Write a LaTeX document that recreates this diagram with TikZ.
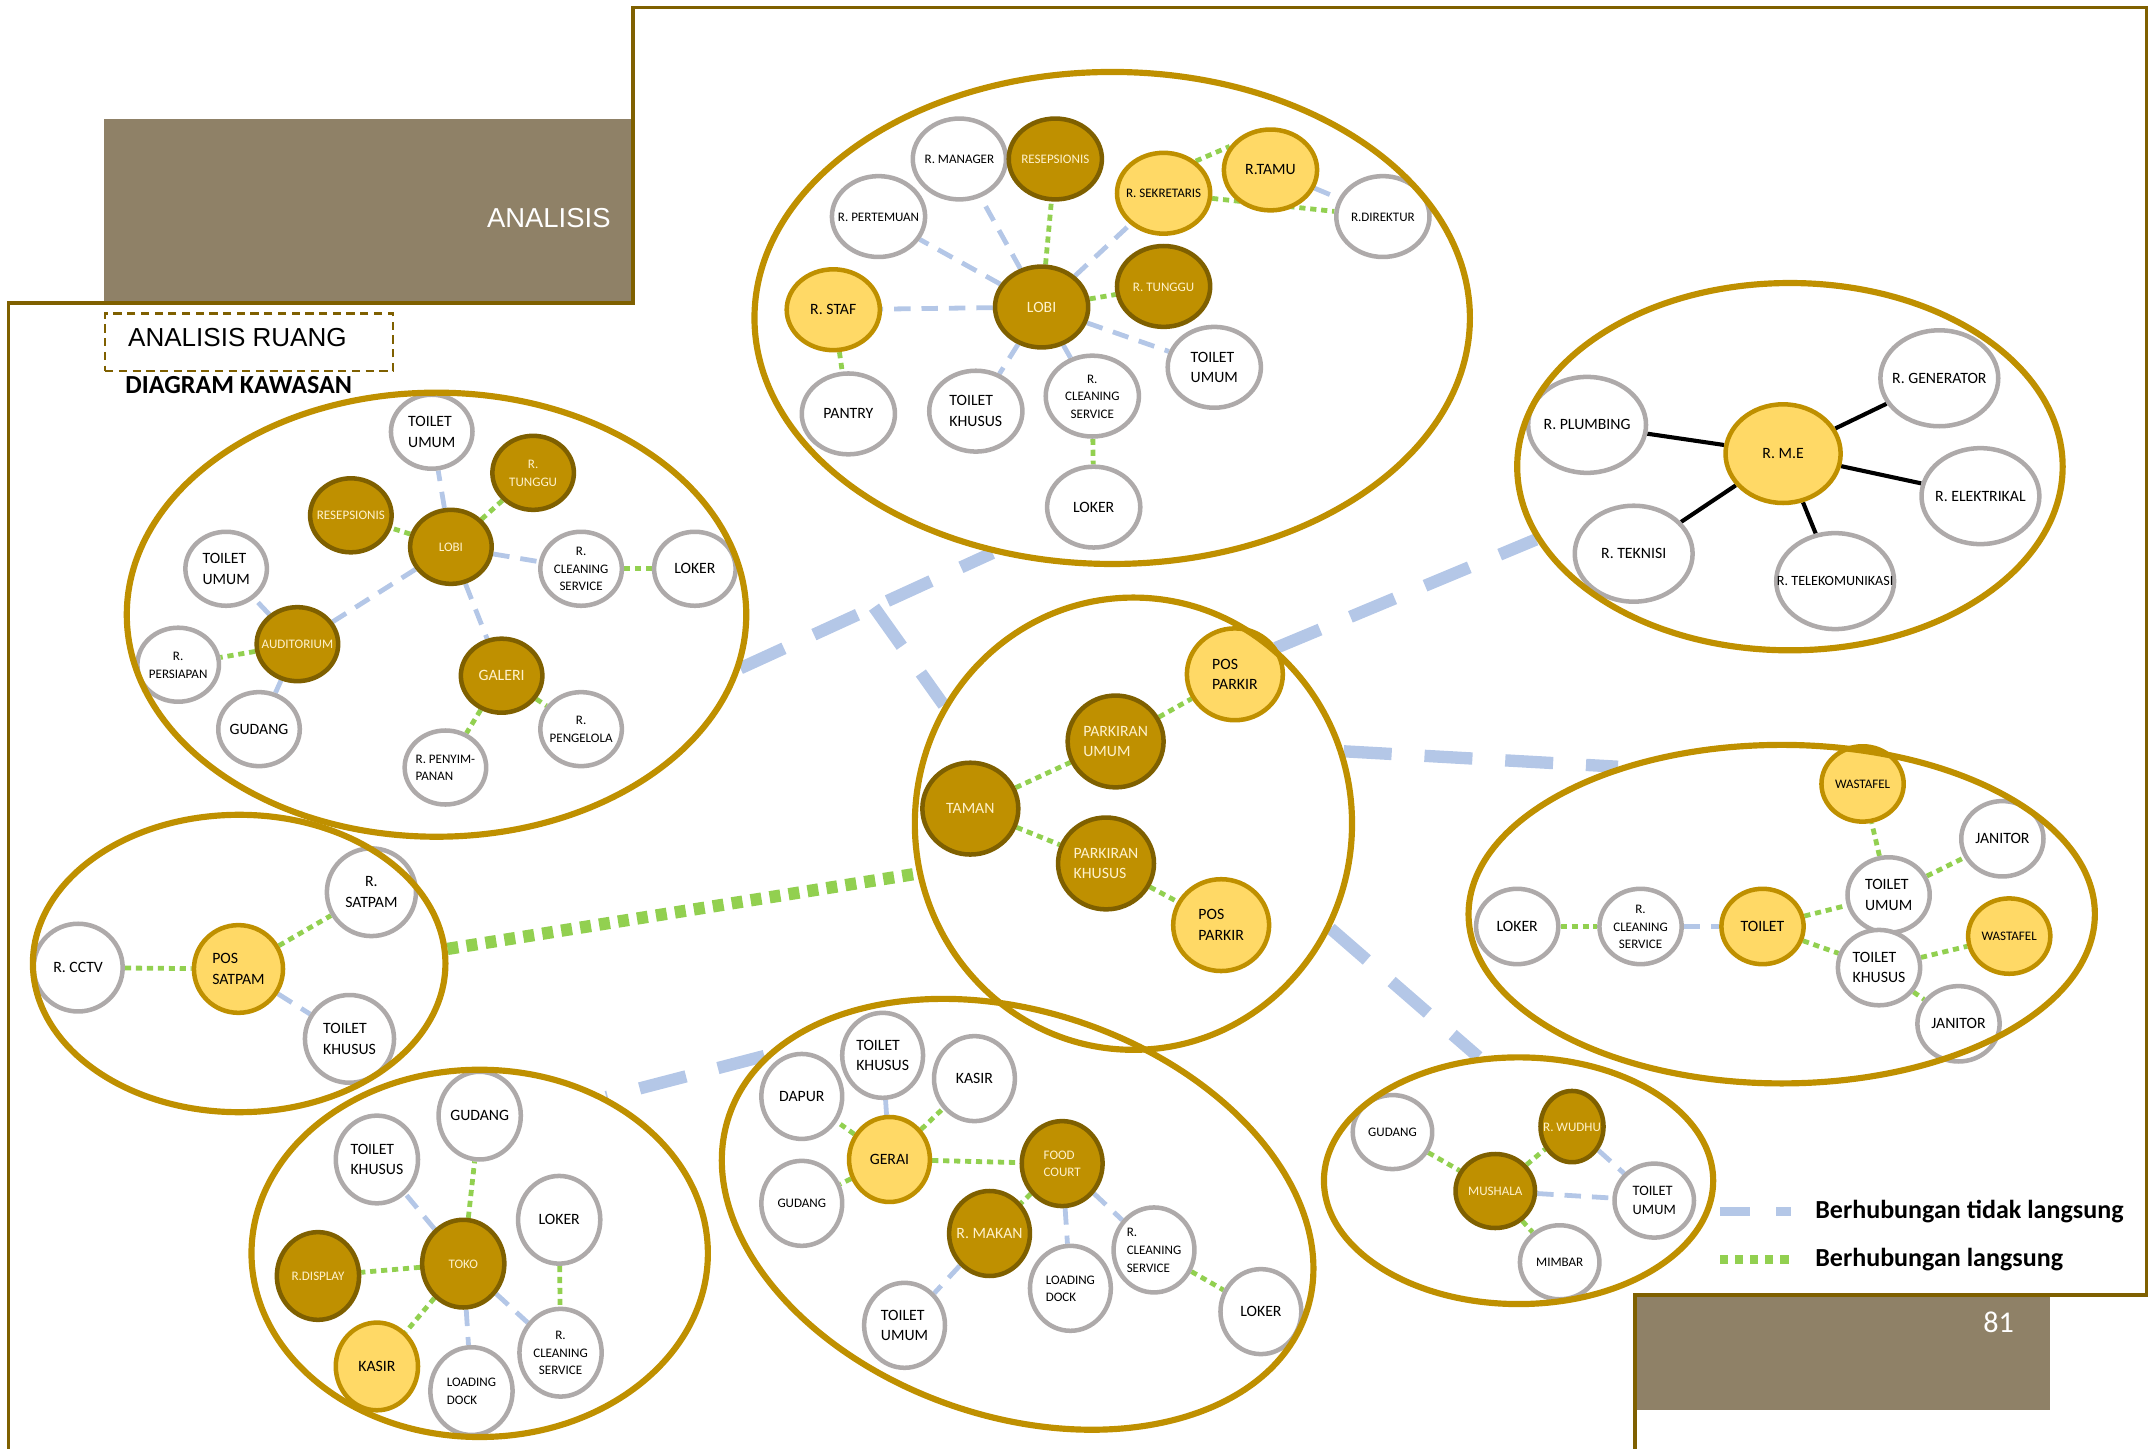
\documentclass[tikz,border=0pt]{standalone}
\usepackage{fontspec}
\setmainfont{Carlito}
\newfontfamily\headfont{Liberation Sans}
\usetikzlibrary{shapes.geometric,backgrounds,calc}
\definecolor{zonegold}{RGB}{191,144,0}
\definecolor{darkgold}{RGB}{127,96,0}
\definecolor{lightgold}{RGB}{255,217,102}
\definecolor{ringgray}{RGB}{174,170,170}
\definecolor{linkblue}{RGB}{180,199,231}
\definecolor{linkgreen}{RGB}{146,208,80}
\definecolor{cream}{RGB}{255,242,204}
\definecolor{boxbrown}{RGB}{143,129,103}
% label sits in a box of no size, so the ring keeps its own size
\newcommand{\rlbl}[2][c]{\makebox[0pt]{\raisebox{-0.32em}[0pt][0pt]{\begin{tabular}{@{}#1@{}}#2\end{tabular}}}}

\begin{document}
\begin{tikzpicture}[x=1pt,y=-1pt,
  every node/.style={font=\fontsize{11.5}{15}\selectfont},
  sm/.style={font=\fontsize{9.5}{12.8}\selectfont},
  md/.style={font=\fontsize{10.5}{13.5}\selectfont},
  every room/.style={minimum width=68,minimum height=59},
  room/.style={ellipse,inner sep=0pt,line width=3.3,every room},
  wr/.style={room,draw=ringgray,fill=white},
  lr/.style={room,draw=zonegold,fill=lightgold},
  dr/.style={room,draw=darkgold,fill=zonegold,text=cream},
  zone/.style={ellipse,draw=zonegold,line width=4.5,inner sep=0pt},
  ind/.style={draw=linkblue,line width=3.5,dash pattern=on 12pt off 8pt},
  dir/.style={draw=linkgreen,line width=3.5,dash pattern=on 4.5pt off 3.5pt},
  tech/.style={draw=black,line width=3},
  indbig/.style={draw=linkblue,line width=9,dash pattern=on 35pt off 24pt},
  dirbig/.style={draw=linkgreen,line width=9,dash pattern=on 8pt off 6pt},
]
\useasboundingbox (0,0) rectangle (1568,1057);

% page header
\fill[boxbrown] (76,87) rectangle (462,222);
\fill[boxbrown] (1194,946) rectangle (1496,1029);
\draw[darkgold,line width=2.5] (6,1057) -- (6,221) -- (462,221) -- (462,5.5)
  -- (1566,5.5) -- (1566,945) -- (1193,945) -- (1193,1057);
\node[anchor=base east,text=white,font=\headfont\fontsize{20}{24}\selectfont] (ttlMain) at (449,166) {ANALISIS};
\node[draw=darkgold,line width=1.5,dash pattern=on 6pt off 4pt,anchor=north west,
  minimum width=210,minimum height=42] (ttlBox) at (76,228) {};
\node[anchor=base west,font=\headfont\fontsize{19}{23}\selectfont] (ttlSub) at (90,253) {ANALISIS RUANG};
\node[anchor=base west,font=\bfseries\fontsize{19}{23}\selectfont] (ttlDiag) at (88,287) {DIAGRAM KAWASAN};
\node[anchor=base east,text=white,font=\fontsize{22}{26}\selectfont] (pgNum) at (1473,972) {81};

% legend
\node[anchor=base west,font=\bfseries\fontsize{19}{23}\selectfont] (lgInd) at (1321,889) {Berhubungan tidak langsung};
\node[anchor=base west,font=\bfseries\fontsize{19}{23}\selectfont] (lgDir) at (1321,924) {Berhubungan langsung};
\draw[draw=linkblue,line width=6,dash pattern=on 22pt off 19pt] ([xshift=-66]lgInd.west) -- ([xshift=-14]lgInd.west);
\draw[draw=linkgreen,line width=6,dash pattern=on 6pt off 5pt] ([xshift=-66]lgDir.west) -- ([xshift=-16]lgDir.west);

% kantor
\begin{scope}[every room/.style={minimum width=68,minimum height=59}]
\node[wr,sm] (kManager) at (700,116) {\rlbl{R. MANAGER}};
\node[dr,sm] (kResepsionis) at (770,116) {\rlbl{RESEPSIONIS}};
\node[wr,sm] (kPertemuan) at (641,158) {\rlbl{R. PERTEMUAN}};
\node[lr,sm] (kSekretaris) at (849,141) {\rlbl{R. SEKRETARIS}};
\node[lr] (kTamu) at (927,124) {\rlbl{R.TAMU}};
\node[wr,sm] (kDirektur) at (1009,158) {\rlbl{R.DIREKTUR}};
\node[lr] (kStaf) at (608,226) {\rlbl{R. STAF}};
\node[dr] (kLobi) at (760,224) {\rlbl{LOBI}};
\node[dr,sm] (kTunggu) at (849,209) {\rlbl{R. TUNGGU}};
\node[wr] (kToiletU) at (886,268) {\rlbl[l]{TOILET\\UMUM}};
\node[wr] (kPantry) at (619,302) {\rlbl{PANTRY}};
\node[wr] (kToiletK) at (712,300) {\rlbl[l]{TOILET\\KHUSUS}};
\node[wr,sm] (kCleaning) at (797,289) {\rlbl{R.\\CLEANING\\SERVICE}};
\node[wr] (kLoker) at (798,370) {\rlbl{LOKER}};
\end{scope}

% galeri
\begin{scope}[every room/.style={minimum width=59.5,minimum height=54}]
\node[wr] (gToiletU) at (315,315) {\rlbl[l]{TOILET\\UMUM}};
\node[dr,sm] (gTunggu) at (389,345) {\rlbl{R.\\TUNGGU}};
\node[dr,sm] (gResepsionis) at (256,376) {\rlbl{RESEPSIONIS}};
\node[dr,sm] (gLobi) at (329,399) {\rlbl{LOBI}};
\node[wr] (gToiletU2) at (165,415) {\rlbl[l]{TOILET\\UMUM}};
\node[wr,sm] (gCleaning) at (424,415) {\rlbl{R.\\CLEANING\\SERVICE}};
\node[wr] (gLoker) at (507,415) {\rlbl{LOKER}};
\node[dr,sm] (gAuditorium) at (217,470) {\rlbl{AUDITORIUM}};
\node[wr,sm] (gPersiapan) at (130,485) {\rlbl{R.\\PERSIAPAN}};
\node[dr] (gGaleri) at (366,493) {\rlbl{GALERI}};
\node[wr] (gGudang) at (189,532) {\rlbl{GUDANG}};
\node[wr,sm] (gPengelola) at (424,532) {\rlbl{R.\\PENGELOLA}};
\node[wr,sm] (gPenyimpanan) at (325,560) {\rlbl[l]{R. PENYIM-\\PANAN}};
\end{scope}

% mekanikal elektrikal
\begin{scope}[every room/.style={minimum width=86,minimum height=70}]
\node[lr,minimum width=84,minimum height=72] (mME) at (1301,331) {\rlbl{R. M.E}};
\node[wr] (mPlumbing) at (1158,310) {\rlbl{R. PLUMBING}};
\node[wr] (mGenerator) at (1415,276) {\rlbl{R. GENERATOR}};
\node[wr] (mElektrikal) at (1445,362) {\rlbl{R. ELEKTRIKAL}};
\node[wr] (mTeknisi) at (1192,404) {\rlbl{R. TEKNISI}};
\node[wr,font=\fontsize{10.3}{13}\selectfont] (mTelekom) at (1339,424) {\rlbl{R. TELEKOMUNIKASI}};
\end{scope}

% taman dan parkir
\begin{scope}[every room/.style={minimum width=70,minimum height=67}]
\node[lr] (tPosA) at (901,492) {\rlbl[l]{POS\\PARKIR}};
\node[dr] (tUmum) at (814,541) {\rlbl[l]{PARKIRAN\\UMUM}};
\node[dr] (tTaman) at (708,590) {\rlbl{TAMAN}};
\node[dr] (tKhusus) at (807,630) {\rlbl[l]{PARKIRAN\\KHUSUS}};
\node[lr] (tPosB) at (891,675) {\rlbl[l]{POS\\PARKIR}};
\end{scope}

% toilet
\begin{scope}[every room/.style={minimum width=60,minimum height=55}]
\node[lr,sm] (wWastafelA) at (1359,572) {\rlbl{WASTAFEL}};
\node[wr] (wJanitorA) at (1461,612) {\rlbl{JANITOR}};
\node[wr] (wLoker) at (1107,676) {\rlbl{LOKER}};
\node[wr,sm] (wCleaning) at (1197,676) {\rlbl{R.\\CLEANING\\SERVICE}};
\node[lr] (wToilet) at (1286,676) {\rlbl{TOILET}};
\node[wr] (wToiletU) at (1378,653) {\rlbl[l]{TOILET\\UMUM}};
\node[wr] (wToiletK) at (1371,706) {\rlbl[l]{TOILET\\KHUSUS}};
\node[lr,sm] (wWastafelB) at (1466,683) {\rlbl{WASTAFEL}};
\node[wr] (wJanitorB) at (1429,747) {\rlbl{JANITOR}};
\end{scope}

% satpam
\begin{scope}[every room/.style={minimum width=65,minimum height=64}]
\node[wr] (sCctv) at (57,706) {\rlbl{R. CCTV}};
\node[lr] (sPos) at (174,707) {\rlbl[l]{POS\\SATPAM}};
\node[wr] (sSatpam) at (271,651) {\rlbl{R.\\SATPAM}};
\node[wr] (sToiletK) at (255,758) {\rlbl[l]{TOILET\\KHUSUS}};
\end{scope}

% toko
\begin{scope}[every room/.style={minimum width=60,minimum height=64}]
\node[wr] (oGudang) at (350,814) {\rlbl{GUDANG}};
\node[wr] (oToiletK) at (275,846) {\rlbl[l]{TOILET\\KHUSUS}};
\node[wr] (oLoker) at (408,890) {\rlbl{LOKER}};
\node[dr,sm] (oToko) at (338,922) {\rlbl{TOKO}};
\node[dr,sm] (oDisplay) at (232,931) {\rlbl{R.DISPLAY}};
\node[lr] (oKasir) at (275,997) {\rlbl{KASIR}};
\node[wr,sm] (oLoading) at (344,1015) {\rlbl[l]{LOADING\\DOCK}};
\node[wr,sm] (oCleaning) at (409,987) {\rlbl{R.\\CLEANING\\SERVICE}};
\end{scope}

% food court
\begin{scope}[every room/.style={minimum width=59,minimum height=62}]
\node[wr] (fToiletK) at (644,770) {\rlbl[l]{TOILET\\KHUSUS}};
\node[wr] (fKasir) at (711,787) {\rlbl{KASIR}};
\node[wr] (fDapur) at (585,800) {\rlbl{DAPUR}};
\node[lr] (fGerai) at (649,846) {\rlbl{GERAI}};
\node[wr,sm] (fGudang) at (585,878) {\rlbl{GUDANG}};
\node[dr,sm] (fFood) at (775,849) {\rlbl[l]{FOOD\\COURT}};
\node[dr] (fMakan) at (722,900) {\rlbl{R. MAKAN}};
\node[wr,sm] (fLoading) at (781,940) {\rlbl[l]{LOADING\\DOCK}};
\node[wr,sm] (fCleaning) at (842,912) {\rlbl[l]{R.\\CLEANING\\SERVICE}};
\node[wr] (fToiletU) at (660,967) {\rlbl[l]{TOILET\\UMUM}};
\node[wr] (fLoker) at (920,957) {\rlbl{LOKER}};
\end{scope}

% mushala
\begin{scope}[every room/.style={minimum width=58,minimum height=54}]
\node[wr,sm] (uGudang) at (1016,826) {\rlbl{GUDANG}};
\node[dr,sm,minimum width=46,minimum height=52] (uWudhu) at (1147,822) {\rlbl{R. WUDHU}};
\node[dr,sm] (uMushala) at (1091,869) {\rlbl{MUSHALA}};
\node[wr,md] (uToiletU) at (1207,876) {\rlbl[l]{TOILET\\UMUM}};
\node[wr,sm] (uMimbar) at (1138,921) {\rlbl{MIMBAR}};
\end{scope}

% zones
\node[zone,minimum width=522,minimum height=359] (kZone) at (811.5,232) {};
\node[zone,minimum width=452,minimum height=324] (gZone) at (318.5,448.5) {};
\node[zone,minimum width=398,minimum height=268] (mZone) at (1306,340.5) {};
\node[zone,minimum width=319,minimum height=330] (tZone) at (827,601) {};
\node[zone,minimum width=457,minimum height=247] (wZone) at (1300,667) {};
\node[zone,minimum width=301,minimum height=217] (sZone) at (174.5,703) {};
\node[zone,minimum width=333,minimum height=268] (oZone) at (350,914.5) {};
\node[zone,minimum width=445,minimum height=295,rotate=-19] (fZone) at (742.5,886) {};
\node[zone,minimum width=284,minimum height=180] (uZone) at (1108,861.5) {};

\begin{scope}[on background layer]
% kantor links
\draw[ind] (kLobi) -- (kManager);
\draw[dir] (kLobi) -- (kResepsionis);
\draw[ind] (kLobi) -- (kPertemuan);
\draw[ind] (kLobi) -- (kSekretaris);
\draw[dir] (kLobi) -- (kTunggu);
\draw[ind] (kLobi) -- (kStaf);
\draw[ind] (kLobi) -- (kToiletU);
\draw[ind] (kLobi) -- (kCleaning);
\draw[ind] (kLobi) -- (kToiletK);
\draw[dir] (kStaf) -- (kPantry);
\draw[dir] (kCleaning) -- (kLoker);
\draw[dir] (kSekretaris.45) -- (kTamu.150);
\draw[dir] (kSekretaris) -- (kDirektur);
\draw[ind] (kTamu) -- (kDirektur);
% galeri links
\draw[ind] (gLobi) -- (gToiletU);
\draw[dir] (gLobi) -- (gTunggu);
\draw[dir] (gLobi) -- (gResepsionis);
\draw[ind] (gLobi) -- (gCleaning);
\draw[ind] (gLobi) -- (gAuditorium);
\draw[ind] (gLobi) -- (gGaleri);
\draw[dir] (gCleaning) -- (gLoker);
\draw[ind] (gAuditorium) -- (gToiletU2);
\draw[dir] (gAuditorium) -- (gPersiapan);
\draw[ind] (gAuditorium) -- (gGudang);
\draw[dir] (gGaleri) -- (gPengelola);
\draw[dir] (gGaleri) -- (gPenyimpanan);
% M.E links
\foreach \r in {mPlumbing,mGenerator,mElektrikal,mTeknisi,mTelekom}
  \draw[tech] (mME) -- (\r);
% taman links
\draw[dir] (tTaman) -- (tUmum);
\draw[dir] (tUmum) -- (tPosA);
\draw[dir] (tTaman) -- (tKhusus);
\draw[dir] (tKhusus) -- (tPosB);
% toilet links
\draw[dir] (wLoker) -- (wCleaning);
\draw[ind] (wCleaning) -- (wToilet);
\draw[dir] (wToilet) -- (wToiletU);
\draw[dir] (wToilet) -- (wToiletK);
\draw[dir] (wToiletU) -- (wWastafelA);
\draw[dir] (wToiletU) -- (wJanitorA);
\draw[dir] (wToiletK) -- (wWastafelB);
\draw[dir] (wToiletK) -- (wJanitorB);
% satpam links
\draw[dir] (sCctv) -- (sPos);
\draw[dir] (sPos) -- (sSatpam);
\draw[ind] (sPos) -- (sToiletK);
% toko links
\draw[dir] (oToko) -- (oGudang);
\draw[ind] (oToko) -- (oToiletK);
\draw[dir] (oToko) -- (oDisplay);
\draw[dir] (oToko) -- (oKasir);
\draw[ind] (oToko) -- (oLoading);
\draw[ind] (oToko) -- (oCleaning);
\draw[dir] (oLoker) -- (oCleaning);
% food court links
\draw[ind] (fGerai) -- (fToiletK);
\draw[dir] (fGerai) -- (fKasir);
\draw[dir] (fGerai) -- (fDapur);
\draw[dir] (fGerai) -- (fGudang);
\draw[dir] (fGerai) -- (fFood);
\draw[dir] (fFood) -- (fMakan);
\draw[ind] (fFood) -- (fLoading);
\draw[ind] (fFood) -- (fCleaning);
\draw[ind] (fMakan) -- (fToiletU);
\draw[dir] (fCleaning) -- (fLoker);
% mushala links
\draw[dir] (uGudang) -- (uMushala);
\draw[dir] (uMushala) -- (uWudhu);
\draw[ind] (uMushala) -- (uToiletU);
\draw[ind] (uWudhu) -- (uToiletU);
\draw[dir] (uMushala) -- (uMimbar);
% zone links
\draw[indbig] (gZone.-10.5) -- (kZone.243);
\coordinate (jn) at ($(gZone.-10.5)!0.53!(kZone.243)$);
\draw[indbig] (jn) -- (tZone.148.5);
\draw[indbig] (tZone.51) -- (mZone.196.6);
\draw[indbig] (tZone.19.3) -- (wZone.138.3);
\draw[indbig] (tZone.-28) -- (uZone.108.5);
\draw[indbig] (fZone.167) -- (oZone.51.8);
\draw[dirbig] (sZone.4.1) -- (tZone.193.6);
\end{scope}
\end{tikzpicture}
\end{document}
